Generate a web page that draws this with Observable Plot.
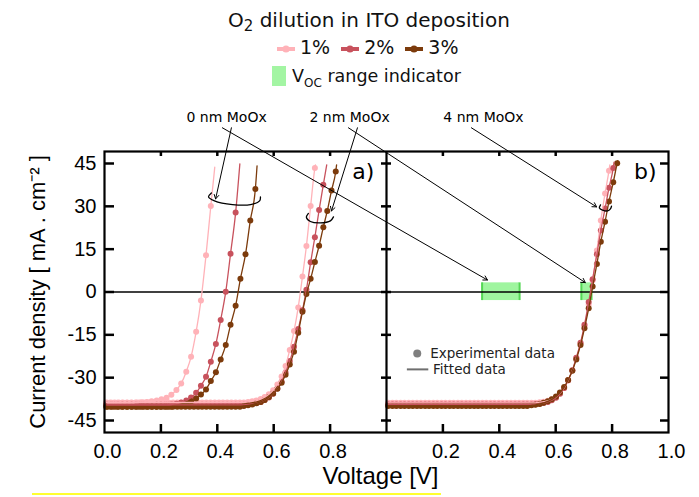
<!DOCTYPE html>
<html><head><meta charset="utf-8">
<script src="https://cdn.jsdelivr.net/npm/d3@7"></script>
<script src="https://cdn.jsdelivr.net/npm/@observablehq/plot@0.6"></script>
<style>
body{margin:0;background:#fff;}
#wrap{position:relative;width:699px;height:497px;overflow:hidden;background:#fff;}
#head{position:absolute;left:0;top:0;width:699px;height:100px;font-family:"DejaVu Sans",sans-serif;color:#111;}
.row{position:absolute;white-space:nowrap;line-height:22px;}
.item{display:inline-block;margin-right:11px;}
.item svg{vertical-align:middle;margin-right:5px;}
#chart{position:absolute;left:0;top:100px;}
#yl{position:absolute;left:32px;top:493px;width:409px;height:2px;background:#ffff30;}
</style></head><body>
<div id="wrap"><div id="head"></div><div id="chart"></div><div id="yl"></div></div>
<script>
// ---------- data ----------
const o2Levels = ["1%", "2%", "3%"];
const o2Colors = ["#ffb2b8", "#c8525d", "#7c3b0c"];
const yTicks = [-45, -30, -15, 0, 15, 30, 45];
const xLabelsA = [0.0, 0.2, 0.4, 0.6, 0.8];
const xLabelsB = [0.2, 0.4, 0.6, 0.8, 1.0];
const innerTicks = [0.2, 0.4, 0.6, 0.8];

// voltage grids [V]
const gridA = [0.010,0.027,0.045,0.062,0.080,0.097,0.115,0.132,0.150,0.167,0.185,0.202,0.220,0.237,0.255,0.272,0.290,0.307,0.325,0.342,0.360,0.377,0.395,0.412,0.430,0.447,0.465,0.482,0.500,0.517,0.535];
const gridB = [0.006,0.021,0.036,0.050,0.065,0.080,0.095,0.110,0.124,0.139,0.154,0.169,0.184,0.198,0.213,0.228,0.243,0.258,0.272,0.287,0.302,0.317,0.332,0.346,0.361,0.376,0.391,0.406,0.420,0.435,0.450,0.465,0.480,0.494,0.509,0.524,0.539,0.554,0.568,0.583,0.598,0.613,0.628,0.642,0.657,0.672,0.687,0.702,0.716,0.731,0.746,0.761,0.776,0.790,0.805,0.820];
const gridC = [0.006,0.021,0.035,0.050,0.064,0.079,0.093,0.108,0.122,0.137,0.151,0.166,0.180,0.195,0.209,0.224,0.238,0.253,0.267,0.282,0.296,0.311,0.325,0.340,0.354,0.369,0.383,0.398,0.412,0.427,0.441,0.456,0.470,0.485,0.499,0.514,0.528,0.543,0.557,0.572,0.586,0.601,0.615,0.630,0.644,0.659,0.673,0.688,0.702,0.717,0.731,0.746,0.760,0.775,0.789,0.804,0.818];

// current density [mA/cm2], 0 nm MoOx (panel a)
const j0nm1 = [-38.8,-38.8,-38.8,-38.8,-38.8,-38.8,-38.7,-38.6,-38.5,-38.3,-38.0,-37.6,-37.0,-36.0,-34.3,-32.0,-27.9,-22.7,-13.9,-3.0,12.9,30.1];
const j0nm2 = [-39.5,-39.5,-39.5,-39.5,-39.5,-39.5,-39.5,-39.5,-39.5,-39.5,-39.5,-39.5,-39.5,-39.4,-39.1,-38.7,-38.0,-36.9,-35.3,-32.8,-29.7,-24.4,-18.2,-9.8,0.1,13.4,27.8];
const j0nm3 = [-40.2,-40.2,-40.2,-40.2,-40.2,-40.2,-40.2,-40.2,-40.2,-40.2,-40.2,-40.2,-40.2,-40.2,-39.9,-39.5,-39.0,-38.3,-37.3,-35.9,-34.1,-31.2,-28.1,-23.6,-18.6,-11.5,-4.8,4.6,13.2,25.0,36.1];
// 2 nm MoOx (panel a)
const j2nm1 = [-38.7,-38.7,-38.7,-38.7,-38.7,-38.7,-38.7,-38.7,-38.7,-38.7,-38.7,-38.7,-38.7,-38.7,-38.7,-38.7,-38.7,-38.7,-38.7,-38.7,-38.7,-38.7,-38.7,-38.7,-38.7,-38.7,-38.7,-38.7,-38.7,-38.7,-38.7,-38.7,-38.7,-38.7,-38.5,-38.3,-38.0,-37.5,-36.8,-35.8,-34.4,-32.4,-29.6,-25.9,-20.3,-13.7,-5.4,5.4,16.1,30.1,43.4];
const j2nm2 = [-39.5,-39.5,-39.5,-39.5,-39.5,-39.5,-39.5,-39.5,-39.5,-39.5,-39.5,-39.5,-39.5,-39.5,-39.5,-39.5,-39.5,-39.5,-39.5,-39.5,-39.5,-39.5,-39.5,-39.5,-39.5,-39.5,-39.5,-39.5,-39.5,-39.5,-39.5,-39.5,-39.5,-39.5,-39.4,-39.2,-38.9,-38.5,-37.8,-36.9,-35.6,-33.8,-31.4,-28.2,-24.2,-19.2,-13.0,-6.4,0.8,10.4,19.2,28.7,37.6];
const j2nm3 = [-40.2,-40.2,-40.2,-40.2,-40.2,-40.2,-40.2,-40.2,-40.2,-40.2,-40.2,-40.2,-40.2,-40.2,-40.2,-40.2,-40.2,-40.2,-40.2,-40.2,-40.2,-40.2,-40.2,-40.2,-40.2,-40.2,-40.2,-40.2,-40.2,-40.2,-40.2,-40.2,-40.2,-39.9,-39.7,-39.4,-39.0,-38.5,-37.8,-36.8,-35.5,-33.9,-31.8,-29.0,-25.4,-20.9,-14.3,-6.9,-0.7,4.6,10.5,16.2,22.7,28.4,35.5,42.2];
// 4 nm MoOx (panel b)
const j4nm1 = [-38.8,-38.8,-38.8,-38.8,-38.8,-38.8,-38.8,-38.8,-38.8,-38.8,-38.8,-38.8,-38.8,-38.8,-38.8,-38.8,-38.8,-38.8,-38.8,-38.8,-38.8,-38.8,-38.8,-38.8,-38.8,-38.8,-38.8,-38.8,-38.8,-38.8,-38.8,-38.8,-38.8,-38.8,-38.8,-38.8,-38.8,-38.6,-38.4,-38.1,-37.6,-36.8,-35.5,-33.6,-31.0,-27.5,-23.2,-18.0,-12.0,-4.5,4.0,14.5,25.0,34.5,42.5];
const j4nm2 = [-39.4,-39.4,-39.4,-39.4,-39.4,-39.4,-39.4,-39.4,-39.4,-39.4,-39.4,-39.4,-39.4,-39.4,-39.4,-39.4,-39.4,-39.4,-39.4,-39.4,-39.4,-39.4,-39.4,-39.4,-39.4,-39.4,-39.4,-39.4,-39.4,-39.4,-39.4,-39.4,-39.4,-39.4,-39.4,-39.4,-39.3,-39.1,-38.9,-38.5,-37.9,-37.0,-35.6,-33.6,-30.9,-27.4,-23.0,-17.8,-11.5,-3.5,4.5,13.2,21.5,29.2,36.5,43.4];
const j4nm3 = [-39.9,-39.9,-39.9,-39.9,-39.9,-39.9,-39.9,-39.9,-39.9,-39.9,-39.9,-39.9,-39.9,-39.9,-39.9,-39.9,-39.9,-39.9,-39.9,-39.9,-39.9,-39.9,-39.9,-39.9,-39.9,-39.9,-39.9,-39.9,-39.9,-39.9,-39.9,-39.9,-39.9,-39.9,-39.9,-39.7,-39.5,-39.2,-38.8,-38.3,-37.6,-36.6,-35.2,-33.3,-30.8,-27.6,-23.6,-18.6,-12.7,-5.7,1.9,9.8,17.6,24.6,31.7,38.4,45.1];

// top ends of the fitted lines (1%, 2%, 3%)
const fitEndV0 = [0.391, 0.480, 0.541], fitEndJ0 = [43.7, 44.9, 44.2];
const fitEndV2 = [0.748, 0.788, 0.823], fitEndJ2 = [44.5, 44.5, 44.5];
const fitEndV4 = [0.792, 0.807, 0.820], fitEndJ4 = [44.5, 45.5, 46.0];

// Voc range indicators (panel b), [V]
const vocLo = [0.339, 0.691], vocHi = [0.472, 0.727];
const vocJ = [-3.0, 3.2];

// annotations (panel index, V, J)
const labelText = ["0 nm MoOx", "2 nm MoOx", "4 nm MoOx"];
const labelPanel = [0, 0, 1], labelV = [0.433, 0.869, 0.344], labelJ = [61, 61, 61];
const arrowFrom = [[0,0.450,57.5],[0,0.418,57.5],[0,0.897,57.5],[0,0.865,57.5],[1,0.301,57.5]];
const arrowTo   = [[0,0.394,32.6],[1,0.358,4.2],[0,0.805,28.4],[1,0.705,3.3],[1,0.745,29.8]];
const bracket0 = [[0.379,34.7],[0.369,33.3],[0.390,31.9],[0.454,30.6],[0.518,30.6],[0.550,31.9],[0.553,33.3]];
const bracket2 = [[0.723,27.5],[0.716,26.1],[0.730,24.7],[0.766,24.2],[0.801,24.9],[0.812,26.3]];
const bracket4 = [[0.759,30.5],[0.755,29.4],[0.766,28.7],[0.784,28.4],[0.794,29.1],[0.798,30.1]];

// ---------- build ----------
const series = [];
const add = (panel, thick, grid, js, ev, ej) => js.forEach((j, k) =>
  series.push({panel, thick, o2: o2Levels[k], grid, j: j, ev: ev[k], ej: ej[k]}));
add(0, "0 nm", gridA, [j0nm1, j0nm2, j0nm3], fitEndV0, fitEndJ0);
add(0, "2 nm", gridB, [j2nm1, j2nm2, j2nm3], fitEndV2, fitEndJ2);
add(1, "4 nm", gridC, [j4nm1, j4nm2, j4nm3], fitEndV4, fitEndJ4);

const dots = [], lines = [];
for (const s of series) {
  const key = s.thick + s.o2;
  s.j.forEach((j, i) => {
    const p = {x: s.grid[i] + s.panel, j, o2: s.o2, key};
    dots.push(p); lines.push(p);
  });
  lines.push({x: s.ev + s.panel, j: s.ej, o2: s.o2, key});
}
const order = {"1%": 0, "2%": 1, "3%": 2};
dots.sort((a, b) => order[a.o2] - order[b.o2]);

const xLabels = [...xLabelsA.map(v => ({x: v, t: v.toFixed(1)})), ...xLabelsB.map(v => ({x: v + 1, t: v.toFixed(1)}))];
const tickX = [...innerTicks, ...innerTicks.map(v => v + 1)];
const voc = vocLo.map((lo, i) => ({x1: lo + 1, x2: vocHi[i] + 1}));
const vocEdges = [...vocLo, ...vocHi].map(v => ({x: v + 1}));
const arrows = arrowFrom.map((f, i) => ({x1: f[1] + f[0], y1: f[2], x2: arrowTo[i][1] + arrowTo[i][0], y2: arrowTo[i][2]}));
const brackets = [
  ...bracket0.map(p => ({id: 0, x: p[0], y: p[1]})),
  ...bracket2.map(p => ({id: 1, x: p[0], y: p[1]})),
  ...bracket4.map(p => ({id: 2, x: p[0] + 1, y: p[1]}))
];
const labels = labelText.map((t, i) => ({t, x: labelV[i] + labelPanel[i], y: labelJ[i]}));

// layout
const W = 699, Hsvg = 397, mL = 104, mR = 31, mT = 51, mB = 65;
const PW = (W - mL - mR) / 2, PH = Hsvg - mT - mB;
const AX = "Liberation Sans, Arial, sans-serif";
const DV = "DejaVu Sans, sans-serif";

const chart = Plot.plot({
  width: W, height: Hsvg,
  marginLeft: mL, marginRight: mR, marginTop: mT, marginBottom: mB,
  x: {domain: [0, 2], axis: null},
  y: {domain: [-49.2, 49.2], axis: null},
  color: {domain: o2Levels, range: o2Colors},
  style: {fontFamily: AX, background: "white", overflow: "visible"},
  marks: [
    Plot.rect(voc, {x1: "x1", x2: "x2", y1: vocJ[0], y2: vocJ[1], fill: "#9ff59f"}),
    Plot.ruleX(vocEdges, {x: "x", y1: vocJ[0], y2: vocJ[1], stroke: "#55d655", strokeWidth: 2}),
    Plot.ruleY([0], {stroke: "black", strokeWidth: 1.3}),
    Plot.dot(dots, {x: "x", y: "j", fill: "o2", r: 3}),
    Plot.line(lines, {x: "x", y: "j", z: "key", stroke: "o2", strokeWidth: 1.3, curve: "monotone-x"}),
    Plot.frame({stroke: "black", strokeWidth: 2.2}),
    Plot.ruleX([1], {stroke: "black", strokeWidth: 2.2}),
    Plot.ruleX(tickX, {x: d => d, insetTop: PH - 8, stroke: "black", strokeWidth: 2.5}),
    Plot.ruleX(tickX, {x: d => d, insetBottom: PH - 5, stroke: "black", strokeWidth: 2.5}),
    Plot.ruleY(yTicks, {y: d => d, insetRight: 2 * PW - 10, stroke: "black", strokeWidth: 2.5}),
    Plot.ruleY(yTicks, {y: d => d, insetLeft: PW - 5, insetRight: PW - 5, stroke: "black", strokeWidth: 2.5}),
    Plot.ruleY(yTicks, {y: d => d, insetLeft: 2 * PW - 8, stroke: "black", strokeWidth: 2.5}),
    Plot.text(yTicks, {y: d => d, frameAnchor: "left", dx: -8, textAnchor: "end", text: d => String(d), fontSize: 20, fill: "black"}),
    Plot.text(xLabels, {x: "x", frameAnchor: "bottom", dy: 25, dx: 3, text: "t", fontSize: 20, fill: "black"}),
    Plot.text(["Voltage [V]"], {frameAnchor: "bottom", textAnchor: "middle", dy: 51, dx: -6, fontSize: 24, fill: "black"}),
    Plot.text(["Current density [ mA . cm\u207B\u00B2 ]"], {frameAnchor: "left", textAnchor: "middle", rotate: -90, dx: -67, fontSize: 22, fill: "black"}),
    Plot.text(["a)", "b)"], {x: (d, i) => i + 0.918, y: 42, fontSize: 22, fontFamily: DV, fill: "black"}),
    Plot.text(labels, {x: "x", y: "y", text: "t", fontSize: 14, fontFamily: DV, fill: "black"}),
    Plot.line(brackets, {x: "x", y: "y", z: "id", curve: "catmull-rom", stroke: "black", strokeWidth: 1.3}),
    Plot.arrow(arrows, {x1: "x1", y1: "y1", x2: "x2", y2: "y2", stroke: "black", strokeWidth: 1, headLength: 7}),
    // inner legend
    Plot.dot(["Experimental data"], {x: 1.109, y: -21.5, r: 4, fill: "#7f7f7f"}),
    Plot.text(["Experimental data"], {x: 1.155, y: -21.5, textAnchor: "start", fontSize: 13.5, fontFamily: DV, fill: "#222"}),
    Plot.ruleY([-27.1], {x1: 1.074, x2: 1.150, stroke: "#6f6f6f", strokeWidth: 2}),
    Plot.text(["Fitted data"], {x: 1.165, y: -27.1, textAnchor: "start", fontSize: 13.5, fontFamily: DV, fill: "#222"})
  ]
});
document.getElementById("chart").appendChild(chart);

// ---------- header legend ----------
const head = document.getElementById("head");
const r1 = document.createElement("div");
r1.className = "row"; r1.style.top = "9px"; r1.style.left = "228px"; r1.style.fontSize = "20px";
r1.innerHTML = 'O<sub style="font-size:15px;vertical-align:-4px;line-height:0">2</sub> dilution in ITO deposition';
head.appendChild(r1);
const r2 = document.createElement("div");
r2.className = "row"; r2.style.top = "36px"; r2.style.left = "277px"; r2.style.fontSize = "19px";
r2.innerHTML = o2Levels.map((l, i) =>
  `<span class="item"><svg width="18" height="10"><line x1="0" x2="18" y1="5" y2="5" stroke="${o2Colors[i]}" stroke-width="4"/><circle cx="9" cy="5" r="3.6" fill="${o2Colors[i]}"/></svg>${l}</span>`).join("");
head.appendChild(r2);
const r3 = document.createElement("div");
r3.className = "row"; r3.style.top = "65px"; r3.style.left = "272px"; r3.style.fontSize = "17.5px";
r3.innerHTML = '<span class="item"><svg width="14" height="20" style="vertical-align:-4px;margin-right:6px"><rect width="14" height="20" fill="#a3f5a3"/></svg>V<sub style="font-size:12px;line-height:0">OC</sub> range indicator</span>';
head.appendChild(r3);
</script>
</body></html>
